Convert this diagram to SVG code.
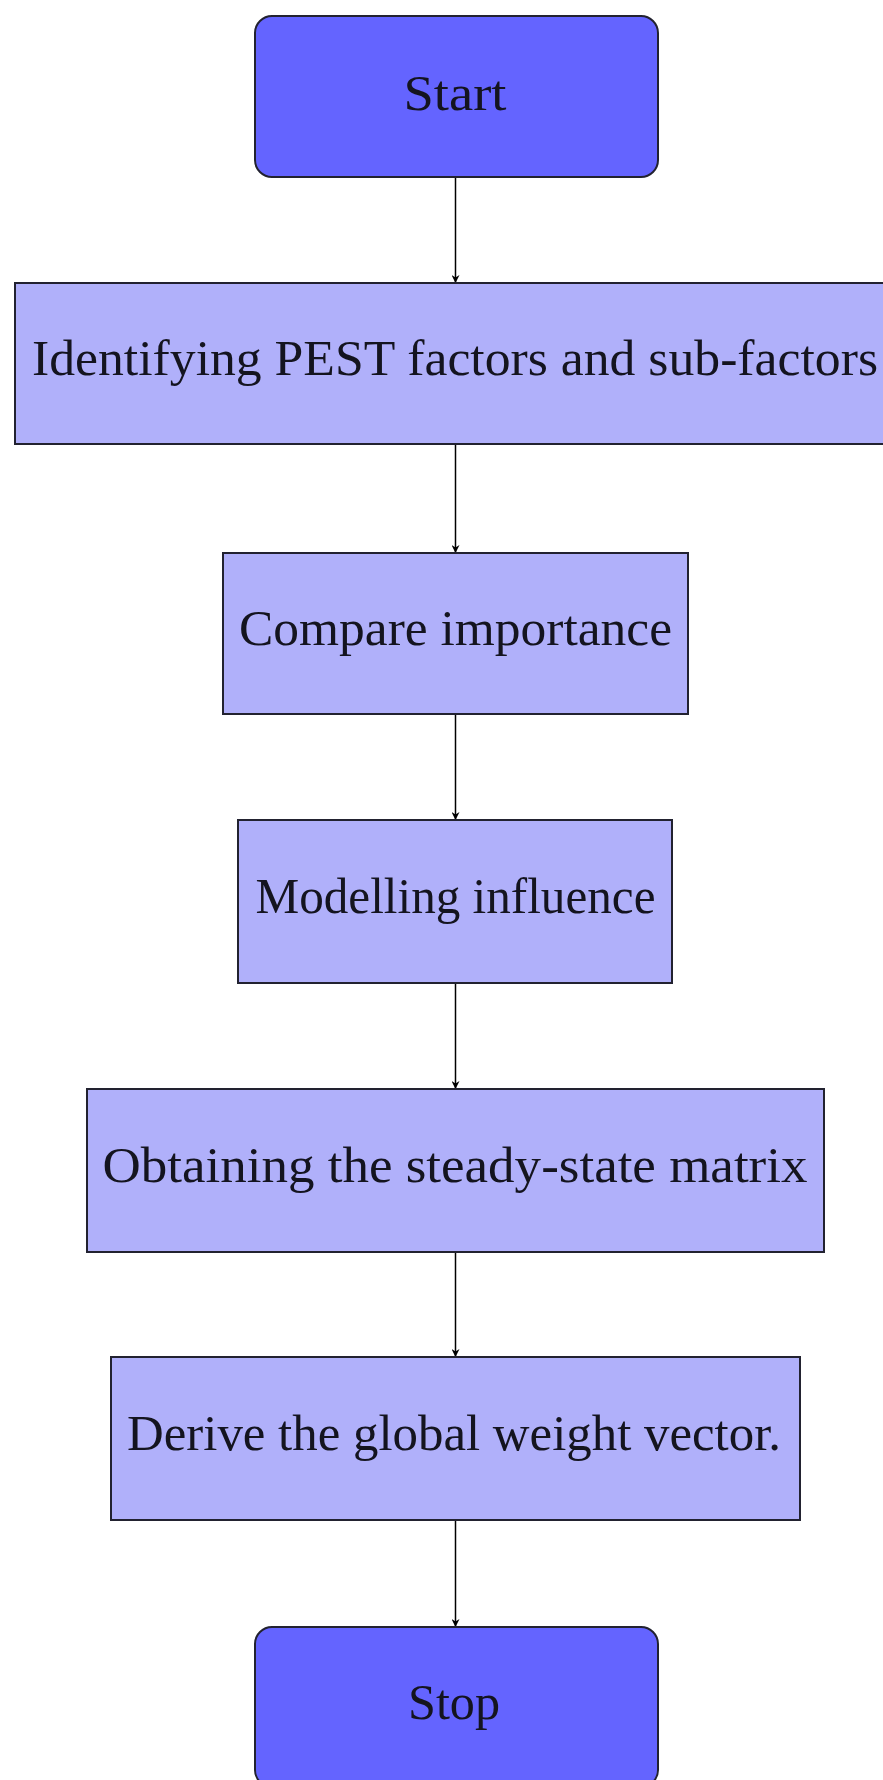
<svg xmlns="http://www.w3.org/2000/svg" width="883" height="1780" viewBox="0 0 883 1780">
<defs>
<style>
.term{fill:#6464ff;stroke:#222230;stroke-width:2}
.proc{fill:#b0b0fa;stroke:#222230;stroke-width:2}
.lbl{font-family:"Liberation Serif","Times New Roman",serif;font-size:51px;fill:#14141f;text-anchor:middle}
.conn{stroke:#000;stroke-width:1.5;fill:none;marker-end:url(#arr)}
</style>
<marker id="arr" viewBox="0 0 10 10" refX="10" refY="5" markerWidth="9" markerHeight="8" markerUnits="userSpaceOnUse" orient="auto">
<path d="M0,0 L10,5 L0,10 L3,5 z" fill="#000"/>
</marker>
</defs>
<rect width="883" height="1780" fill="#fff"/>
<g id="connectors">
<line class="conn" x1="455.5" y1="177" x2="455.5" y2="283"/>
<line class="conn" x1="455.5" y1="444" x2="455.5" y2="553"/>
<line class="conn" x1="455.5" y1="714" x2="455.5" y2="820"/>
<line class="conn" x1="455.5" y1="983" x2="455.5" y2="1089"/>
<line class="conn" x1="455.5" y1="1252" x2="455.5" y2="1357"/>
<line class="conn" x1="455.5" y1="1520" x2="455.5" y2="1627"/>
</g>
<g id="start">
<rect class="term" x="255" y="16" width="403" height="161" rx="17"/>
<text class="lbl" x="455" y="110" textLength="103" lengthAdjust="spacingAndGlyphs">Start</text>
</g>
<g id="identify">
<rect class="proc" x="15" y="283" width="882" height="161"/>
<text class="lbl" x="455" y="375" textLength="846" lengthAdjust="spacingAndGlyphs">Identifying PEST factors and sub-factors</text>
</g>
<g id="compare">
<rect class="proc" x="223" y="553" width="465" height="161"/>
<text class="lbl" x="455.5" y="645" textLength="433" lengthAdjust="spacingAndGlyphs">Compare importance</text>
</g>
<g id="modelling">
<rect class="proc" x="238" y="820" width="434" height="163"/>
<text class="lbl" x="455.5" y="913" textLength="400" lengthAdjust="spacingAndGlyphs">Modelling influence</text>
</g>
<g id="obtaining">
<rect class="proc" x="87" y="1089" width="737" height="163"/>
<text class="lbl" x="455" y="1182" textLength="705" lengthAdjust="spacingAndGlyphs">Obtaining the steady-state matrix</text>
</g>
<g id="derive">
<rect class="proc" x="111" y="1357" width="689" height="163"/>
<text class="lbl" x="454" y="1450" textLength="654" lengthAdjust="spacingAndGlyphs">Derive the global weight vector.</text>
</g>
<g id="stop">
<rect class="term" x="255" y="1627" width="403" height="160" rx="17"/>
<text class="lbl" x="454" y="1719" textLength="92" lengthAdjust="spacingAndGlyphs">Stop</text>
</g>
</svg>
